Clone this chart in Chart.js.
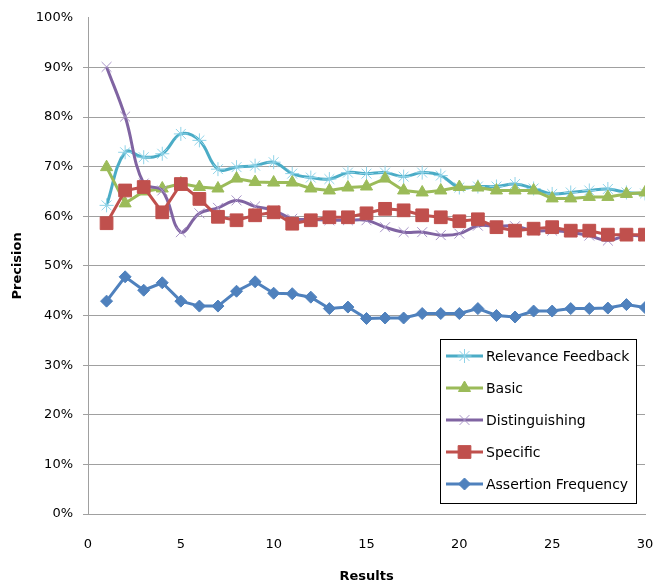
<!DOCTYPE html>
<html>
<head>
<meta charset="utf-8">
<script src="https://cdn.jsdelivr.net/npm/chart.js@4/dist/chart.umd.min.js"></script>
<style>
  html, body { margin: 0; padding: 0; background: #fff; }
  canvas { display: block; }
</style>
</head>
<body>
<canvas id="chart" width="665" height="584"></canvas>
<script>
const results = [1, 2, 3, 4, 5, 6, 7, 8, 9, 10, 11, 12, 13, 14, 15, 16, 17, 18, 19, 20, 21, 22, 23, 24, 25, 26, 27, 28, 29, 30];
const relevance = [62.2, 72.9, 71.9, 72.6, 76.6, 75.3, 69.5, 69.9, 70.2, 70.9, 68.6, 67.8, 67.5, 68.8, 68.6, 68.8, 68.0, 68.8, 68.2, 65.8, 66.0, 66.0, 66.5, 65.6, 64.5, 64.8, 65.2, 65.5, 64.8, 64.6];
const basic = [69.9, 62.6, 65.0, 65.6, 66.6, 65.9, 65.6, 67.6, 66.9, 66.8, 66.8, 65.6, 65.2, 65.8, 66.0, 67.6, 65.2, 64.8, 65.2, 65.9, 65.8, 65.2, 65.2, 65.2, 63.6, 63.6, 63.9, 63.9, 64.5, 64.8];
const distinguishing = [90.1, 80.1, 66.6, 65.2, 56.8, 60.6, 61.7, 63.2, 62.0, 61.2, 59.5, 59.4, 59.2, 59.2, 59.2, 57.8, 56.8, 56.8, 56.2, 56.5, 58.1, 58.0, 58.0, 57.1, 57.1, 56.8, 56.1, 55.1, 56.1, 56.0];
const specific = [58.6, 65.2, 65.9, 60.8, 66.5, 63.5, 59.9, 59.2, 60.2, 60.8, 58.5, 59.2, 59.8, 59.8, 60.6, 61.5, 61.2, 60.2, 59.8, 59.0, 59.4, 57.8, 57.1, 57.5, 57.8, 57.1, 57.1, 56.3, 56.3, 56.3];
const assertion = [42.9, 47.8, 45.1, 46.6, 42.9, 41.9, 41.9, 44.9, 46.8, 44.5, 44.4, 43.7, 41.4, 41.7, 39.4, 39.5, 39.5, 40.4, 40.4, 40.4, 41.4, 40.0, 39.7, 40.9, 40.9, 41.4, 41.4, 41.5, 42.2, 41.6];
const yTicks = [0, 10, 20, 30, 40, 50, 60, 70, 80, 90, 100];

const FONT = "'DejaVu Sans', sans-serif";
const GRID = "#a0a0a0";

const toPoints = (vals) => vals.map((v, i) => ({ x: results[i], y: v }));

function series(label, vals, color, markColor, style, radius, tension, order) {
  return {
    label: label,
    data: toPoints(vals),
    borderColor: color,
    backgroundColor: markColor,
    borderWidth: 3,
    tension: tension,
    pointStyle: style,
    pointRadius: radius,
    pointBackgroundColor: markColor,
    pointBorderColor: markColor,
    pointBorderWidth: 1,
    order: order,
  };
}

// legend drawn as a framed box inside the plot, like the original
const boxLegend = {
  id: "boxLegend",
  afterDraw(chart) {
    const ctx = chart.ctx;
    const area = chart.chartArea;
    const w = 196, h = 164;
    const x0 = area.right - 9 - w;
    const y0 = area.bottom - 11 - h;
    ctx.save();
    ctx.fillStyle = "#fff";
    ctx.fillRect(x0, y0, w, h);
    ctx.strokeStyle = "#000";
    ctx.lineWidth = 1;
    ctx.strokeRect(x0 + 0.5, y0 + 0.5, w, h);
    chart.data.datasets.forEach((ds, i) => {
      const y = y0 + 17 + i * 32;
      ctx.strokeStyle = ds.borderColor;
      ctx.lineWidth = 3;
      ctx.beginPath();
      ctx.moveTo(x0 + 6, y);
      ctx.lineTo(x0 + 43, y);
      ctx.stroke();
      ctx.fillStyle = ds.pointBackgroundColor;
      ctx.strokeStyle = ds.pointBorderColor;
      ctx.lineWidth = ds.pointBorderWidth;
      Chart.helpers.drawPoint(ctx, {
        pointStyle: ds.pointStyle,
        radius: ds.pointRadius,
        borderWidth: ds.pointBorderWidth,
        rotation: 0,
      }, x0 + 24.5, y);
      ctx.fillStyle = "#000";
      ctx.font = "14px " + FONT;
      ctx.textBaseline = "middle";
      ctx.textAlign = "left";
      ctx.fillText(ds.label, x0 + 46, y + 1);
    });
    ctx.restore();
  },
};

const config = {
  type: "line",
  data: {
    datasets: [
      series("Relevance Feedback", relevance, "#4bacc6", "#8fd3e8", "star", 7, 0.4, 5),
      series("Basic", basic, "#9bbb59", "#9bbb59", "triangle", 7, 0, 4),
      series("Distinguishing", distinguishing, "#8064a2", "#a995c8", "crossRot", 7, 0.4, 3),
      series("Specific", specific, "#c0504d", "#c0504d", "rect", 9, 0, 2),
      series("Assertion Frequency", assertion, "#4f81bd", "#4f81bd", "rectRot", 6, 0, 1),
    ],
  },
  options: {
    responsive: false,
    animation: false,
    devicePixelRatio: 1,
    layout: {
      padding: { top: 17, right: 20, left: 0, bottom: 0 },
    },
    plugins: {
      legend: { display: false },
      tooltip: { enabled: false },
    },
    scales: {
      x: {
        type: "linear",
        min: 0,
        max: 30,
        grid: { display: false },
        border: { display: true, color: GRID, width: 1 },
        ticks: {
          stepSize: 5,
          padding: 15,
          color: "#000",
          font: { family: FONT, size: 13 },
        },
        title: {
          display: true,
          text: "Results",
          color: "#000",
          font: { family: FONT, size: 13, weight: "bold" },
          padding: { top: 0, bottom: 0 },
        },
        afterFit(scale) {
          scale.height = 70;
          scale.paddingLeft = 0;
          scale.paddingRight = 0;
        },
      },
      y: {
        min: 0,
        max: 100,
        afterBuildTicks(scale) {
          scale.ticks = yTicks.map((v) => ({ value: v }));
        },
        grid: {
          color: (c) => (c.tick && c.tick.value === 100 ? "rgba(0,0,0,0)" : GRID),
          lineWidth: 1,
          tickLength: 5,
        },
        border: { display: true, color: GRID, width: 1 },
        ticks: {
          padding: 10,
          color: "#000",
          font: { family: FONT, size: 13 },
          callback: (v) => v + "%",
        },
        title: {
          display: true,
          text: "Precision",
          color: "#000",
          font: { family: FONT, size: 13, weight: "bold" },
          padding: { top: 10, bottom: 0 },
        },
        afterFit(scale) {
          scale.width = 88;
        },
      },
    },
  },
  plugins: [boxLegend],
};

const chart = new Chart(document.getElementById("chart"), config);
</script>
</body>
</html>
